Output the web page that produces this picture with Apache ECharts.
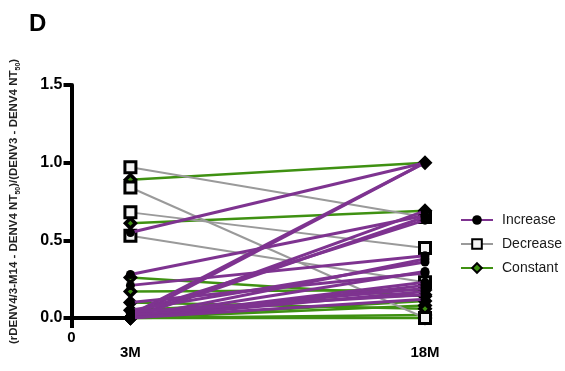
<!DOCTYPE html>
<html>
<head>
<meta charset="utf-8">
<script src="https://cdn.jsdelivr.net/npm/echarts@6/dist/echarts.min.js"></script>
<style>
  html, body { margin: 0; padding: 0; background: #fff; }
  #chart { width: 565px; height: 371px; }
</style>
</head>
<body>
<div id="chart"></div>
<script>
// Time points (months) and tick labels
const timePoints = [3, 18];
const xTickValues = [0, 3, 18];
const xTickLabels = ['0', '3M', '18M'];
const yTickValues = [0, 0.5, 1.0, 1.5];

// Paired ratios per subject: value at 3M and value at 18M
const increase3M  = [0.55, 0.00, 0.02, 0.28, 0.00, 0.00, 0.03, 0.21, 0.00, 0.05, 0.00, 0.10, 0.00, 0.00, 0.02, 0.00, 0.04, 0.00];
const increase18M = [1.00, 1.00, 1.00, 0.66, 0.69, 0.65, 0.63, 0.40, 0.38, 0.36, 0.30, 0.29, 0.23, 0.21, 0.19, 0.17, 0.15, 0.12];

const decrease3M  = [0.97, 0.84, 0.68, 0.53];
const decrease18M = [0.65, 0.00, 0.45, 0.23];

const constant3M  = [0.89, 0.61, 0.26, 0.17, 0.00, 0.00, 0.00, 0.00, 0.05, 0.10];
const constant18M = [1.00, 0.69, 0.14, 0.18, 0.00, 0.02, 0.08, 0.11, 0.15, 0.06];

const FONT = 'Liberation Sans, Arial, sans-serif';
const PURPLE = '#7e3390';
const GREY = '#9a9a9a';
const GREEN = '#3f9112';

function pairSeries(name, a, b, style) {
  return a.map((v, i) => ({
    name: name,
    type: 'line',
    clip: false,
    data: [[timePoints[0], v], [timePoints[1], b[i]]],
    symbol: style.symbol,
    symbolSize: style.symbolSize,
    lineStyle: { color: style.line, width: style.width },
    itemStyle: { color: style.fill, borderColor: '#000', borderWidth: style.border },
    z: style.z,
    emphasis: { disabled: true },
    animation: false
  }));
}

const series = [].concat(
  // axis segment from the origin to the first time point
  [{
    type: 'line',
    silent: true,
    clip: false,
    data: [[0, 0], [timePoints[0], 0]],
    symbol: 'none',
    lineStyle: { color: '#000', width: 4 },
    z: 1,
    animation: false
  }],
  pairSeries('Constant', constant3M, constant18M,
    { symbol: 'diamond', symbolSize: 10, line: GREEN, width: 2.5, fill: GREEN, border: 3.5, z: 2 }),
  pairSeries('Decrease', decrease3M, decrease18M,
    { symbol: 'rect', symbolSize: 11, line: GREY, width: 2, fill: '#f4f4f4', border: 3, z: 3 }),
  pairSeries('Increase', increase3M, increase18M,
    { symbol: 'circle', symbolSize: 9, line: PURPLE, width: 3, fill: '#000', border: 0, z: 4 })
);

const chart = echarts.init(document.getElementById('chart'), null, { renderer: 'canvas' });
chart.setOption({
  backgroundColor: '#fff',
  animation: false,
  title: {
    text: 'D',
    left: 24,
    top: 7,
    textStyle: { fontFamily: FONT, fontSize: 24, fontWeight: 'bold', color: '#000' }
  },
  legend: {
    data: ['Increase', 'Decrease', 'Constant'],
    orient: 'vertical',
    left: 455,
    top: 208,
    itemWidth: 32,
    itemHeight: 12,
    itemGap: 10,
    textStyle: { fontFamily: FONT, fontSize: 14, color: '#1a1a1a', padding: [0, 0, 0, 4] },
    selectedMode: false
  },
  grid: { left: 69, right: 140, top: 85, bottom: 53, containLabel: false },
  xAxis: {
    type: 'value',
    min: 0,
    max: 18,
    interval: 3,
    axisLine: { show: false },
    splitLine: { show: false },
    axisTick: {
      show: true,
      customValues: [0],
      length: 10,
      lineStyle: { color: '#000', width: 4 }
    },
    axisLabel: {
      customValues: xTickValues,
      margin: 12,
      formatter: function (v) {
        const i = xTickValues.indexOf(v);
        if (i < 0) return '';
        return v === 0 ? '{z|' + xTickLabels[i] + '}' : '{m|' + xTickLabels[i] + '}';
      },
      rich: {
        z: { fontFamily: FONT, fontSize: 15, fontWeight: 'bold', color: '#000' },
        m: { fontFamily: FONT, fontSize: 15, fontWeight: 'bold', color: '#000', padding: [15, 0, 0, 0] }
      }
    }
  },
  yAxis: {
    type: 'value',
    min: 0,
    max: 1.5,
    interval: 0.5,
    name: '(rDENV4/3-M14 - DENV4 NT{s|50})/(DENV3 - DENV4 NT{s|50})',
    nameLocation: 'middle',
    nameGap: 50,
    nameTextStyle: {
      fontFamily: FONT, fontSize: 11.5, fontWeight: 'bold', color: '#222',
      rich: { s: { fontFamily: FONT, fontSize: 7, fontWeight: 'bold', color: '#222', padding: [8, 0, 0, 0] } }
    },
    axisLine: { show: true, lineStyle: { color: '#000', width: 4 } },
    axisTick: { show: true, length: 8, lineStyle: { color: '#000', width: 4 } },
    splitLine: { show: false },
    axisLabel: {
      margin: 9,
      fontFamily: FONT, fontSize: 16, fontWeight: 'bold', color: '#000',
      formatter: function (v) { return v.toFixed(1); }
    }
  },
  series: series
});
</script>
</body>
</html>
